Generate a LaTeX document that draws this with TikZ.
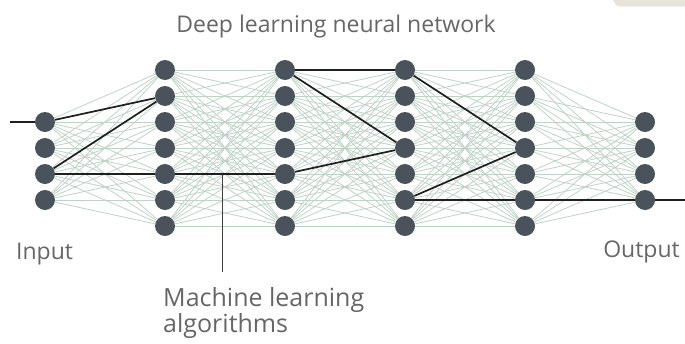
\documentclass[tikz,border=0pt]{standalone}
\usepackage{fontspec}
\setmainfont{Open Sans}
\definecolor{neuron}{HTML}{4A535C}
\definecolor{synapse}{HTML}{BFD2C6}
\definecolor{txtgray}{HTML}{666666}
\definecolor{tabgray}{HTML}{E6E3DC}
\tikzset{
  neuron/.style={circle, fill=neuron, minimum size=20pt, inner sep=0pt},
  synapse/.style={draw=synapse, line width=0.8pt},
  active/.style={draw=black!88, line width=1.7pt},
  caption/.style={text=txtgray, inner sep=0pt, font=\fontsize{23}{26}\selectfont}
}
\begin{document}
\begin{tikzpicture}[x=1pt, y=-1pt]
        \useasboundingbox (0,0) rectangle (685,343);
        \fill[tabgray] (685,0) -- (613,0) -- (616,5) -- (620,6.5) -- (685,6.5) -- cycle;
        % neurons
        \foreach \i in {1,...,4} {
            \node[neuron] (in\i) at (45, 96+26*\i) {};
            \node[neuron] (out\i) at (645, 96+26*\i) {};
        }
        \foreach \l/\x in {a/165, b/285, c/405, d/525} {
            \foreach \i in {1,...,7}
                \node[neuron] (h\l\i) at (\x, 44+26*\i) {};
        }
        % all connections
        \foreach \i in {1,...,4}
            \foreach \j in {1,...,7} {
                \draw[synapse] (in\i) -- (ha\j);
                \draw[synapse] (hd\j) -- (out\i);
            }
        \foreach \l/\m in {a/b, b/c, c/d}
            \foreach \i in {1,...,7}
                \foreach \j in {1,...,7}
                    \draw[synapse] (h\l\i) -- (h\m\j);
        % highlighted paths
        \coordinate (inlead) at (10,122);
        \coordinate (outlead) at (685,200);
        \draw[active] (inlead) -- (in1);
        \draw[active] (in1) -- (ha2);
        \draw[active] (in3) -- (ha2);
        \draw[active] (in3) -- (ha5) -- (hb5);
        \draw[active] (hb5) -- (hc4);
        \draw[active] (hb1) -- (hc1);
        \draw[active] (hb1) -- (hc4);
        \draw[active] (hc1) -- (hd4);
        \draw[active] (hc6) -- (hd4);
        \draw[active] (hc6) -- (hd6) -- (out4) -- (outlead);
        % pointer to the caption
        \coordinate (mltop) at (222,174);
        \coordinate (mlbot) at (222,272);
        \draw[draw=black!75, line width=0.9pt] (mltop) -- (mlbot);
        % texts
        \node[caption, anchor=base] (title) at (336,32) {Deep learning neural network};
        \node[caption, anchor=base west] (input) at (16,259) {Input};
        \node[caption, anchor=base east] (output) at (680,257) {Output};
        \node[caption, anchor=base west, align=left, font=\fontsize{25}{26}\selectfont] (mlalgo) at (163,332) {Machine learning\\algorithms};
\end{tikzpicture}
\end{document}
